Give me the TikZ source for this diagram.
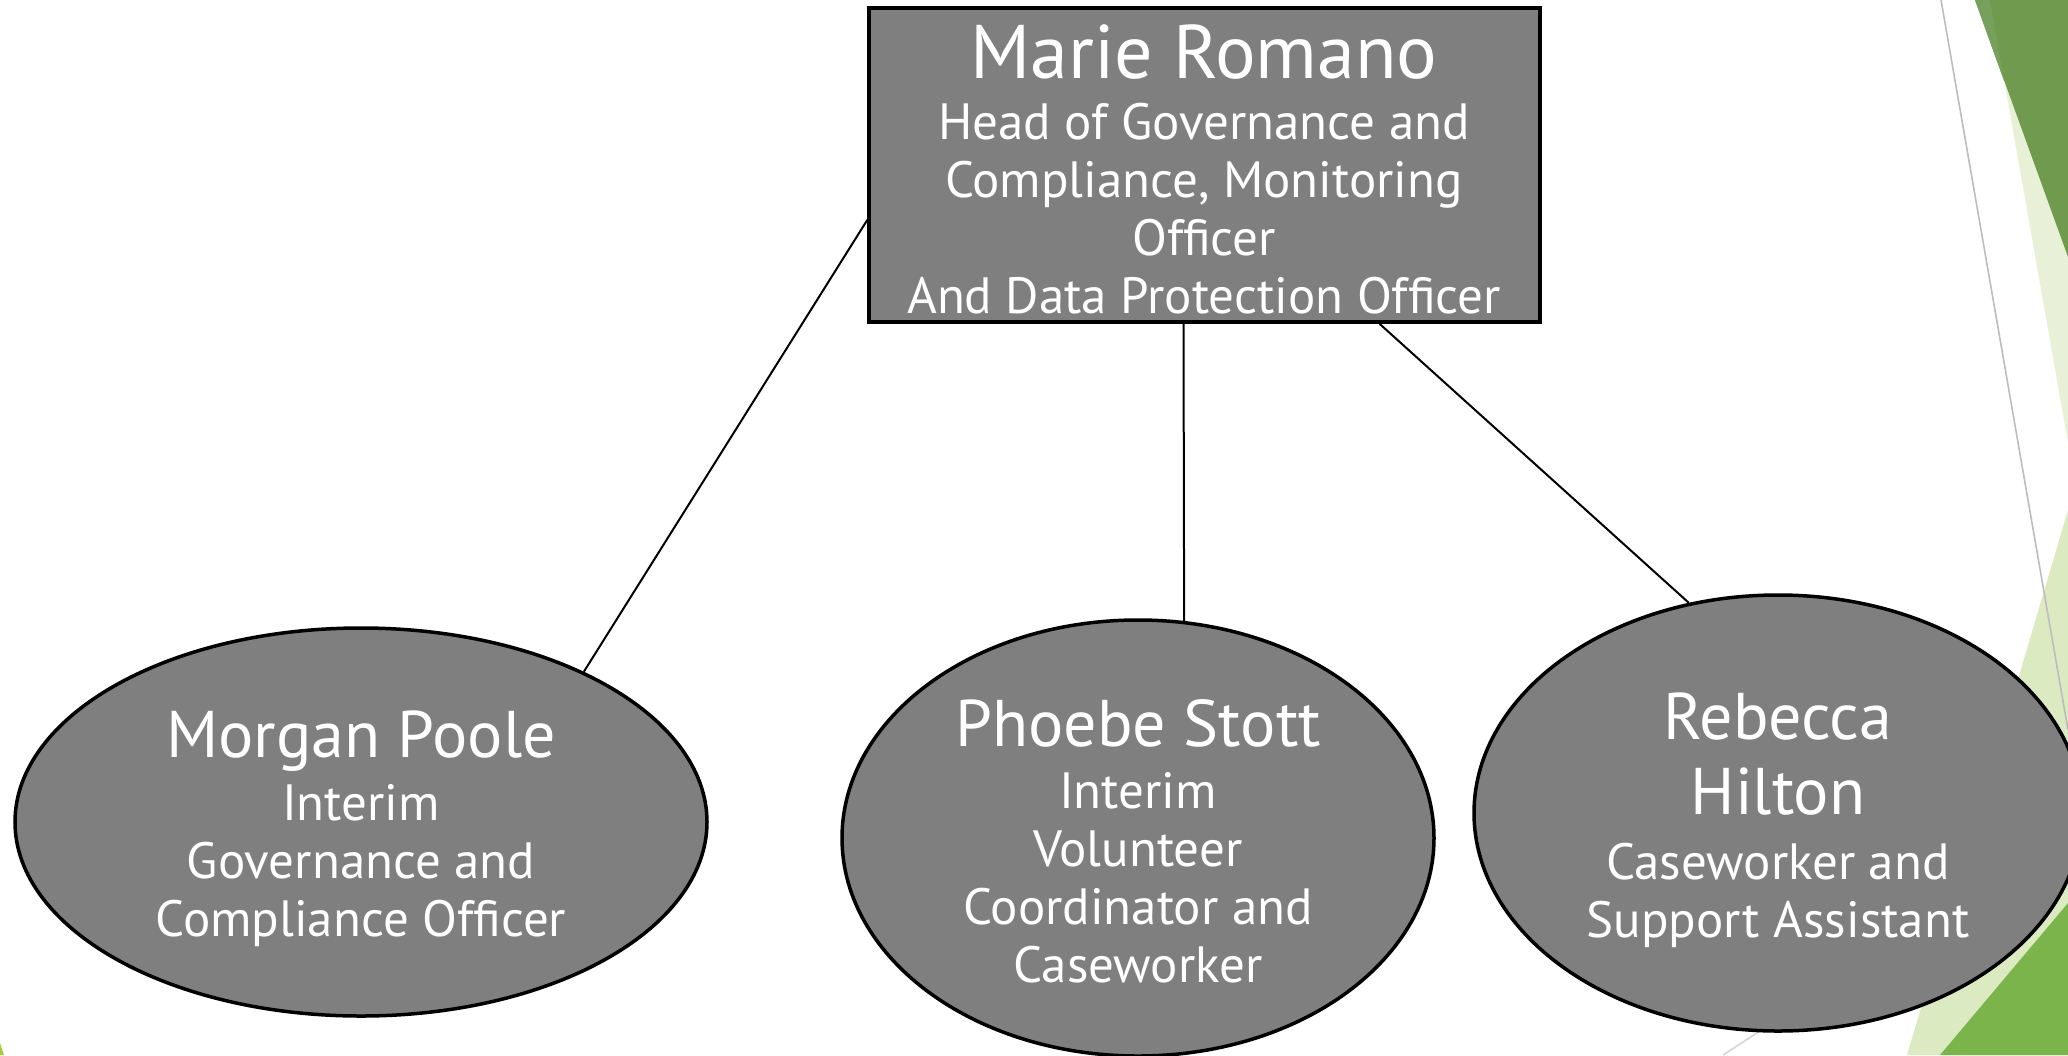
\documentclass[tikz,border=0pt]{standalone}
\usepackage{fontspec}
\setmainfont{PT Sans}
\usetikzlibrary{shapes.geometric,calc}
\definecolor{boxgray}{HTML}{7F7F7F}
\definecolor{darkgreen}{HTML}{709A4E}
\definecolor{stripgreen}{HTML}{76A05B}
\definecolor{palegreen}{HTML}{E8F1D8}
\definecolor{lightgreen}{HTML}{DCEAC2}
\definecolor{brightgreen}{HTML}{7AB44A}
\definecolor{yellowgreen}{HTML}{A8CC3C}
\definecolor{thingray}{HTML}{BDBDBD}
\definecolor{faintgray}{HTML}{D6D6D6}
\newcommand\bossname{\fontsize{76}{77}\selectfont}
\newcommand\staffname{\fontsize{66}{67}\selectfont}
\newcommand\roletext{\fontsize{51}{58}\selectfont}
\begin{document}
\begin{tikzpicture}[x=1pt,y=-1pt,
  role/.style={fill=boxgray,draw=black,line width=3.5pt,inner sep=0pt},
  oval/.style={role,ellipse},
  label/.style={text=white,align=center,inner sep=0pt,font=\roletext},
  link/.style={line width=2pt,draw=black}]
\useasboundingbox (0,0) rectangle (2068,1055);
\clip (0,0) rectangle (2068,1055);
\fill[white] (0,0) rectangle (2068,1055);
% background facets
\fill[palegreen] (1990,0) -- (2068,0) -- (2068,443) -- cycle;
\fill[darkgreen] (1975,0) -- (2068,0) -- (2068,257) -- cycle;
\fill[stripgreen] (1975,0) -- (1990,0) -- (2004,81) -- cycle;
\fill[lightgreen] (2068,510) -- (2068,1055) -- (1907,1055) -- cycle;
\fill[brightgreen] (2068,903) -- (2068,1055) -- (1940,1055) -- cycle;
\fill[yellowgreen] (0,1043) -- (4,1055) -- (0,1055) -- cycle;
\draw[thingray,line width=1.6pt] (1941,0) -- (2068,730);
\draw[faintgray,line width=1.6pt] (1723,1055) -- (1800,1005);
% shapes
\node[role,rectangle,minimum width=671pt,minimum height=314pt] (marie) at (1204.5,165) {};
\node[oval,minimum width=692pt,minimum height=388pt] (morgan) at (361,822) {};
\node[oval,minimum width=592pt,minimum height=436pt] (phoebe) at (1138,838) {};
\node[oval,minimum width=608pt,minimum height=436pt] (rebecca) at (1778,813) {};
% texts
\node[label] (marieT) at (1204,169) {{\bossname Marie Romano}\\[3pt]Head of Governance and\\Compliance, Monitoring\\Officer\\And Data Protection Officer};
\node[label] (morganT) at (361,829) {{\staffname Morgan Poole}\\[5pt]Interim\\Governance and\\Compliance Officer};
\node[label] (phoebeT) at (1138,841) {{\staffname Phoebe Stott}\\[4pt]Interim\\Volunteer\\Coordinator and\\Caseworker};
\node[label] (rebeccaT) at (1778,820) {{\staffname Rebecca}\\[17pt]{\staffname Hilton}\\[7pt]Caseworker and\\Support Assistant};
% connectors
\draw[link] ($(marie.west)+(0,55)$) -- (morgan.34.6);
\draw[link] ($(marie.south)+(-21,0)$) -- (phoebe.78.2);
\draw[link] ($(marie.south)+(175,0)$) -- (rebecca.113.5);
\end{tikzpicture}
\end{document}
